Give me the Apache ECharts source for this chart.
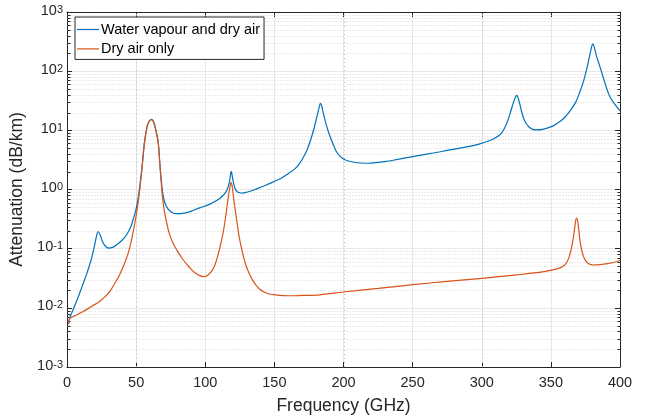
<!DOCTYPE html>
<html><head><meta charset="utf-8">
<script src="https://cdn.jsdelivr.net/npm/echarts@6/dist/echarts.min.js"></script>
<style>html,body{margin:0;padding:0;background:#fff}#c{width:649px;height:420px}</style>
</head><body><div id="c"></div><script>
// ---- data ----
const seriesNames = ['Water vapour and dry air', 'Dry air only'];
const waterFreq = [1,1.5,2,3,4,6,8,10,12,14,16,18,20,21,22.5,24,25.5,27.5,30,33,36,40,43,46,48,50,52,54,56,58,59.5,61,62.5,64,66,67,68,69,70,71,73,76,79,85,90,96,103,110,113,115.5,117.5,118.75,120,121.5,123,125,127,130,135,140,145,150,155,160,165,168,171,174,176.5,179,181,182.5,183.3,184.2,185.5,187.5,190,192.5,195,197,199,201,205,210,215,220,230,240,250,260,270,280,290,298,305,310,314,317,319,321,323,324.5,325.2,326.2,327.5,329,331,334,337,340,344,348,352,356,360,364,368,371,373.5,376,378,379.5,380.2,381,382,383,384.5,386.5,388.5,390.5,392.7,396,400];
const waterAtten = [0.0053,0.006,0.0068,0.0078,0.0088,0.0115,0.015,0.02,0.027,0.036,0.05,0.072,0.115,0.15,0.195,0.17,0.135,0.112,0.102,0.105,0.117,0.14,0.17,0.23,0.32,0.47,0.87,2.1,6.3,11.8,14.3,15.3,14.2,10.8,6.3,3.1,1.6,0.95,0.7,0.58,0.47,0.41,0.39,0.4,0.43,0.49,0.56,0.69,0.8,0.95,1.35,2.02,1.45,1.05,0.92,0.88,0.87,0.9,0.98,1.09,1.22,1.37,1.55,1.85,2.25,2.7,3.5,4.9,7.2,11.5,18,25,28.5,26,19,12.5,8.2,5.8,4.3,3.75,3.4,3.18,2.97,2.83,2.78,2.8,2.95,3.25,3.6,3.95,4.35,4.8,5.3,5.85,6.6,7.5,8.8,11.5,15,21,30,37,39,36,28,20,14.5,11.5,10.4,10.2,10.4,11,12,13.8,16.5,21.5,30,45,66,110,180,260,290,270,225,180,140,100,70,50,37,28,21.5];
const dryFreq = [1,1.5,2,3,5,8,11,15,19,23,27,31,35,38,41,44,46,48,50,52,54,56,58,59.5,61,62.5,64,66,67,68,69,70,72,74,77,80,84,88,92,96,99,102,105,107,109,111,113,115,116.5,117.7,118.75,119.8,121,122.6,124.5,127,130,134,139,145,152,160,170,183,200,225,250,275,300,325,345,355,360,363,365.5,367.2,368.5,369.6,371,372.5,374.5,377,381,386,391,396,400];
const dryAtten = [0.0053,0.0058,0.0066,0.0069,0.0072,0.0078,0.0085,0.0096,0.011,0.0125,0.015,0.019,0.027,0.036,0.052,0.08,0.12,0.2,0.36,0.75,2.0,5.8,11.5,14.2,15.2,14,10.5,6,3.0,1.45,0.78,0.5,0.28,0.18,0.12,0.09,0.065,0.05,0.04,0.035,0.0335,0.036,0.043,0.053,0.075,0.115,0.19,0.38,0.69,1.05,1.32,1.0,0.58,0.32,0.16,0.085,0.048,0.03,0.021,0.0175,0.0164,0.016,0.0162,0.0166,0.0185,0.0213,0.0246,0.028,0.0315,0.036,0.041,0.046,0.053,0.07,0.12,0.22,0.33,0.27,0.14,0.09,0.066,0.056,0.053,0.054,0.056,0.059,0.063];
const yDecades = [0.001,0.01,0.1,1,10,100,1000];
const yMinorMultipliers = [2,3,4,5,6,7,8,9];
const xDottedGrid = [50,200,300];

// ---- styling ----
const FONT = '"Liberation Sans", Arial, Helvetica, sans-serif';
const TXT = '#262626';
const colors = ['#0072BD', '#D95319'];

const minorY = [];
yDecades.slice(0, -1).forEach(d => yMinorMultipliers.forEach(m => minorY.push([0, d * m])));

const chart = echarts.init(document.getElementById('c'), null, {renderer: 'canvas'});
const axisLineStyle = {color: TXT, width: 1};
chart.setOption({
  animation: false,
  backgroundColor: '#fff',
  textStyle: {fontFamily: FONT, color: TXT},
  grid: {left: 67, top: 12, width: 553, height: 357, show: false},
  legend: {
    show: true, orient: 'vertical', left: 75, top: 17,
    backgroundColor: '#fff', borderColor: TXT, borderWidth: 1, borderRadius: 0,
    padding: [5, 4, 3, 2], itemGap: 4.4, itemWidth: 22, itemHeight: 14,
    textStyle: {fontSize: 14.5, color: '#000', fontFamily: FONT, padding: [0, 0, 0, -3]},
    data: seriesNames.map(n => ({name: n, icon: 'path://M0,0 L22,0 L22,1.2 L0,1.2 Z'})),
  },
  xAxis: [{
    type: 'value', min: 0, max: 400, interval: 50, position: 'bottom',
    name: 'Frequency (GHz)', nameLocation: 'middle', nameGap: 30,
    nameTextStyle: {fontSize: 17.5, color: TXT, fontFamily: FONT},
    axisLine: {show: true, onZero: false, lineStyle: axisLineStyle},
    axisTick: {show: true, inside: true, length: 5, lineStyle: axisLineStyle},
    axisLabel: {fontSize: 14.5, color: TXT, margin: 8, fontFamily: FONT},
    splitLine: {show: true, lineStyle: {color: '#e8e8e8', width: 1}}
  }, {
    type: 'value', min: 0, max: 400, interval: 50, position: 'top',
    axisLine: {show: true, onZero: false, lineStyle: axisLineStyle},
    axisTick: {show: true, inside: true, length: 5, lineStyle: axisLineStyle},
    axisLabel: {show: false}, splitLine: {show: false}
  }],
  yAxis: [{
    type: 'log', logBase: 10, min: 0.001, max: 1000, position: 'left',
    name: 'Attenuation (dB/km)', nameLocation: 'middle', nameGap: 31,
    nameTextStyle: {fontSize: 17.5, color: TXT, fontFamily: FONT},
    axisLine: {show: true, onZero: false, lineStyle: axisLineStyle},
    axisTick: {show: true, inside: true, length: 5, lineStyle: axisLineStyle},
    axisLabel: {
      margin: 4, color: TXT, fontFamily: FONT,
      formatter: v => '{b|10}{e|' + Math.round(Math.log10(v)) + '}',
      rich: {
        b: {fontSize: 14.5, color: TXT, fontFamily: FONT, lineHeight: 16, verticalAlign: 'bottom', padding: [0, 0, 2, 0]},
        e: {fontSize: 11, color: TXT, fontFamily: FONT, lineHeight: 11, verticalAlign: 'top', padding: [0, 0, 14, 0]}
      }
    },
    splitLine: {show: true, lineStyle: {color: '#e8e8e8', width: 1}}
  }, {
    type: 'log', logBase: 10, min: 0.001, max: 1000, position: 'right',
    axisLine: {show: true, onZero: false, lineStyle: axisLineStyle},
    axisTick: {show: true, inside: true, length: 5, lineStyle: axisLineStyle},
    axisLabel: {show: false}, splitLine: {show: false}
  }],
  series: [
    {
      type: 'custom', name: 'minorY', xAxisIndex: 0, yAxisIndex: 0, silent: true, z: 1,
      data: minorY, clip: false,
      renderItem(params, api) {
        const v = api.value(1);
        const p1 = api.coord([0, v]), p2 = api.coord([400, v]);
        const y = Math.round(p1[1]) + 0.5;
        const x1 = Math.round(p1[0]) + 0.5, x2 = Math.round(p2[0]) + 0.5;
        return {type: 'group', children: [
          {type: 'line', shape: {x1: x1, y1: y, x2: x2, y2: y}, style: {stroke: '#d6d6d6', lineWidth: 1, lineDash: [1, 2]}},
          {type: 'line', shape: {x1: x1, y1: y, x2: x1 + 3, y2: y}, style: {stroke: TXT, lineWidth: 1}},
          {type: 'line', shape: {x1: x2 - 3, y1: y, x2: x2, y2: y}, style: {stroke: TXT, lineWidth: 1}}
        ]};
      }
    },
    {
      type: 'custom', name: 'dottedX', xAxisIndex: 0, yAxisIndex: 0, silent: true, z: 1,
      data: xDottedGrid.map(x => [x, 0.001]), clip: false,
      renderItem(params, api) {
        const x = api.value(0);
        const p1 = api.coord([x, 0.001]), p2 = api.coord([x, 1000]);
        const xx = Math.round(p1[0]) + 0.5;
        return {type: 'line', shape: {x1: xx, y1: p1[1], x2: xx, y2: p2[1]}, style: {stroke: '#bdbdbd', lineWidth: 1, lineDash: [1, 3]}};
      }
    },
    {
      type: 'line', name: seriesNames[0], xAxisIndex: 0, yAxisIndex: 0, z: 3,
      data: waterFreq.map((f, i) => [f, waterAtten[i]]),
      symbol: 'none', smooth: 0.35,
      lineStyle: {color: colors[0], width: 1.2}, itemStyle: {color: colors[0]}
    },
    {
      type: 'line', name: seriesNames[1], xAxisIndex: 0, yAxisIndex: 0, z: 4,
      data: dryFreq.map((f, i) => [f, dryAtten[i]]),
      symbol: 'none', smooth: 0.35,
      lineStyle: {color: colors[1], width: 1.2}, itemStyle: {color: colors[1]}
    }
  ]
});
</script></body></html>
